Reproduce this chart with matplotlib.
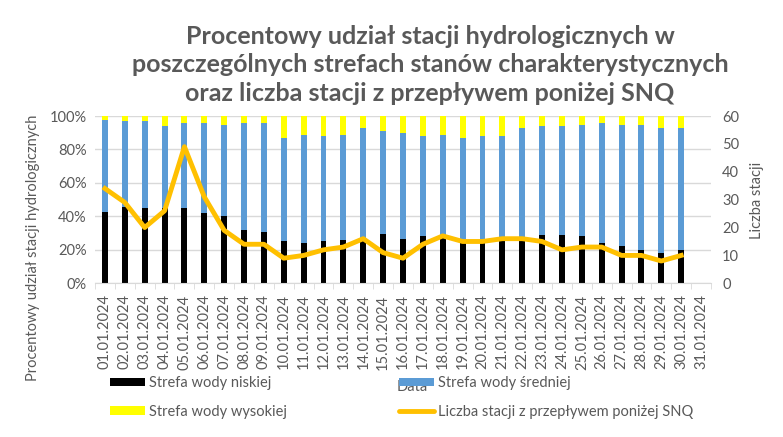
import matplotlib
matplotlib.use("Agg")
import matplotlib.pyplot as plt
import numpy as np
from matplotlib.patches import Patch
from matplotlib.lines import Line2D

plt.rcParams['font.family'] = ['Lato', 'DejaVu Sans']

dates = [f"{d:02d}.01.2024" for d in range(1, 32)]
niska = [42.8, 45.4, 45.2, 45.0, 45.2, 42.2, 40.0, 32.0, 30.8, 25.0, 23.8, 25.0, 26.0, 27.0, 29.2,
         26.6, 28.0, 29.0, 25.6, 25.6, 26.0, 26.4, 29.0, 29.0, 28.0, 24.0, 22.0, 20.0, 18.0, 20.0, np.nan]
blue_top = [97.6, 97.2, 97.2, 94.2, 95.8, 95.8, 94.6, 95.8, 95.8, 86.9, 88.8, 88.0, 88.8, 92.8, 91.2,
            90.0, 88.0, 88.8, 86.9, 88.0, 88.0, 92.8, 94.2, 94.2, 94.8, 95.8, 94.8, 94.8, 92.8, 92.8, np.nan]
srednia = [b - n for b, n in zip(blue_top, niska)]
wysoka = [100 - b for b in blue_top]
snq = [34, 29, 20, 26, 49, 31, 19, 14, 14, 9, 10, 12, 13, 16, 11,
       9, 14, 17, 15, 15, 16, 16, 15, 12, 13, 13, 10, 10, 8, 10, np.nan]

gray = '#595959'
fig = plt.figure(figsize=(7.83, 4.37), dpi=100)
ax = fig.add_axes([95/783, 1-283.3/437, 616/783, 167.3/437])
x = np.arange(len(dates))
w = 0.3
ax.bar(x, niska, w, color='black', zorder=2)
ax.bar(x, srednia, w, bottom=niska, color='#5B9BD5', zorder=2)
ax.bar(x, wysoka, w, bottom=blue_top, color='#FFFF00', zorder=2)
ax.set_ylim(0, 100)
ax.set_xlim(-0.5, len(dates) - 0.5)
ax.set_yticks(np.arange(0, 101, 20))
ax.set_yticklabels([f"{v}%" for v in range(0, 101, 20)])
ax.yaxis.grid(True, color='#d9d9d9', linewidth=1, zorder=0)
ax.set_axisbelow(True)
for s in ['top', 'left', 'right']:
    ax.spines[s].set_visible(False)
ax.spines['bottom'].set_color('#d9d9d9')
ax.set_xticks(x)
ax.set_xticklabels(dates, rotation=90)
ax.set_xticks(np.arange(-0.5, len(dates), 1), minor=True)
ax.tick_params(axis='x', which='major', length=0, pad=8, labelsize=10.5, labelcolor=gray)
ax.tick_params(axis='x', which='minor', length=4, color='#d9d9d9')
ax.tick_params(axis='y', length=0, labelsize=10.5, labelcolor=gray, pad=6)

ax2 = ax.twinx()
ax2.plot(x, snq, color='#FFC000', linewidth=3.5, zorder=3, solid_joinstyle='round')
ax2.set_ylim(0, 60)
ax2.set_yticks(np.arange(0, 61, 10))
ax2.tick_params(axis='y', length=0, labelsize=10.5, labelcolor=gray, pad=8)
for s in ['top', 'left', 'right', 'bottom']:
    ax2.spines[s].set_visible(False)

fig.text(757/783, 1-200/437, 'Liczba stacji', rotation=90, ha='center', va='center',
         fontsize=10.5, color=gray)
fig.text(33/783, 1-248/437, 'Procentowy udział stacji hydrologicznych', rotation=90,
         ha='center', va='center', fontsize=10.5, color=gray)

title = ("Procentowy udział stacji hydrologicznych w\n"
         "poszczególnych strefach stanów charakterystycznych\n"
         "oraz liczba stacji z przepływem poniżej SNQ")
fig.text(430/783, 1-65/437, title, ha='center', va='center', fontsize=18,
         fontweight='bold', color=gray, linespacing=1.3)

fig.text(412/783, 1-387/437, 'Data', ha='center', va='center', fontsize=10.5, color=gray, zorder=1)

h_n = Patch(facecolor='black', edgecolor='none')
h_w = Patch(facecolor='#FFFF00', edgecolor='none')
h_s = Patch(facecolor='#5B9BD5', edgecolor='none')
h_l = Line2D([0], [0], color='#FFC000', linewidth=3.5, solid_capstyle='round')
kw = dict(frameon=False, fontsize=10.5, labelcolor=gray, handlelength=2.4, handleheight=0.5,
          handletextpad=0.3, labelspacing=1.0, borderpad=0, borderaxespad=0, loc='upper left')
fig.legend([h_n, h_w], ['Strefa wody niskiej', 'Strefa wody wysokiej'],
           bbox_to_anchor=(110/783, 1-376/437), **kw)
fig.legend([h_s, h_l], ['Strefa wody średniej', 'Liczba stacji z przepływem poniżej SNQ'],
           bbox_to_anchor=(399/783, 1-376/437), **kw)

fig.savefig('out.png', dpi=100)
